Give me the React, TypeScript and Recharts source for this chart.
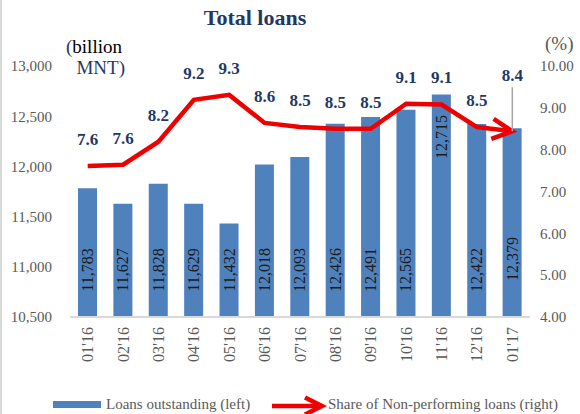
import React from 'react';
import { ComposedChart, Bar, Line, XAxis, YAxis, LabelList } from 'recharts';

const months = ["01'16", "02'16", "03'16", "04'16", "05'16", "06'16", "07'16", "08'16", "09'16", "10'16", "11'16", "12'16", "01'17"];
const loansOutstanding = [11783, 11627, 11828, 11629, 11432, 12018, 12093, 12426, 12491, 12565, 12715, 12422, 12379];
const nplShare = [7.61, 7.64, 8.19, 9.19, 9.31, 8.64, 8.54, 8.5, 8.5, 9.1, 9.08, 8.54, 8.44];
const leftTicks = [10500, 11000, 11500, 12000, 12500, 13000];
const rightTicks = [4, 5, 6, 7, 8, 9, 10];

const FONT = "'Liberation Serif', 'Times New Roman', Times, serif";
const RED = '#ee0000';
const BLUE = '#4F81BD';
const NAVY = '#1F3864';
const GREY = '#595959';
const LAST = months.length - 1;

const data = months.map((m, i) => ({ month: m, loans: loansOutstanding[i], npl: nplShare[i] }));

const XTick = (props: any) => {
  const { x, y, payload } = props;
  return (
    <text
      x={x}
      y={y}
      transform={`rotate(-90, ${x}, ${y})`}
      textAnchor="end"
      dominantBaseline="central"
      fontFamily={FONT}
      fontSize={16}
      fill={GREY}
    >
      {payload.value}
    </text>
  );
};

const BarValueLabel = (props: any) => {
  const { x, y, width, height, value, index } = props;
  const lift = index === 10 ? 180 : index === 12 ? 58 : 47;
  const cx = Number(x) + Number(width) / 2;
  const cy = Number(y) + Number(height) - lift;
  return (
    <text
      x={cx}
      y={cy}
      transform={`rotate(-90, ${cx}, ${cy})`}
      textAnchor="middle"
      dominantBaseline="central"
      fontFamily={FONT}
      fontSize={16}
      fill="#1a1a1a"
    >
      {Number(value).toLocaleString('en-US')}
    </text>
  );
};

const LineValueLabel = (props: any) => {
  const { x, y, value, index } = props;
  const txt = Number(value).toFixed(1);
  if (index === LAST) {
    return (
      <g>
        <line x1={x} x2={x} y1={y - 44} y2={y} stroke="#a6a6a6" strokeWidth={1.5} />
        <text x={x} y={y - 50} textAnchor="middle" fontFamily={FONT} fontWeight="bold" fontSize={17} fill={NAVY}>
          {txt}
        </text>
      </g>
    );
  }
  return (
    <text x={x} y={y - 21} textAnchor="middle" fontFamily={FONT} fontWeight="bold" fontSize={17} fill={NAVY}>
      {txt}
    </text>
  );
};

const ArrowDot = (props: any) => {
  const { cx, cy, index, points } = props;
  if (index !== LAST) return <g key={`dot-${index}`} />;
  let ux = 0.99;
  let uy = 0.11;
  if (points && points[index - 1]) {
    const dx = cx - points[index - 1].x;
    const dy = cy - points[index - 1].y;
    const len = Math.hypot(dx, dy) || 1;
    ux = dx / len;
    uy = dy / len;
  }
  const nx = -uy;
  const ny = ux;
  const back = 20;
  const half = 10;
  const pts = `${cx - back * ux + half * nx},${cy - back * uy + half * ny} ${cx},${cy} ${cx - back * ux - half * nx},${cy - back * uy - half * ny}`;
  return <polyline key={`dot-${index}`} points={pts} fill="none" stroke={RED} strokeWidth={4.5} strokeLinejoin="miter" />;
};

export default function App() {
  return (
    <div style={{ position: 'absolute', left: 0, top: 0, width: 580, height: 414, background: '#fff' }}>
      <ComposedChart
        width={580}
        height={414}
        data={data}
        margin={{ top: 66, right: 10, bottom: 37, left: 20 }}
      >
        <XAxis
          dataKey="month"
          height={60}
          interval={0}
          tickSize={0}
          tickMargin={10}
          tickLine={false}
          axisLine={{ stroke: '#d9d9d9', strokeWidth: 2 }}
          tick={<XTick />}
        />
        <YAxis
          yAxisId="left"
          orientation="left"
          width={50}
          domain={[10500, 13000]}
          ticks={leftTicks}
          allowDataOverflow
          tickSize={0}
          tickMargin={18}
          axisLine={false}
          tickLine={false}
          tickFormatter={(v: number) => v.toLocaleString('en-US')}
          tick={{ fontFamily: FONT, fontSize: 15, fill: GREY }}
        />
        <YAxis
          yAxisId="right"
          orientation="right"
          width={40}
          domain={[4, 10]}
          ticks={rightTicks}
          tickSize={0}
          tickMargin={10}
          axisLine={false}
          tickLine={false}
          tickFormatter={(v: number) => v.toFixed(2)}
          tick={{ fontFamily: FONT, fontSize: 15, fill: GREY, textAnchor: 'start' }}
        />
        <Bar yAxisId="left" dataKey="loans" fill={BLUE} barSize={19} isAnimationActive={false}>
          <LabelList dataKey="loans" content={<BarValueLabel />} />
        </Bar>
        <Line
          yAxisId="right"
          dataKey="npl"
          type="linear"
          stroke={RED}
          strokeWidth={4.5}
          dot={ArrowDot}
          activeDot={false}
          isAnimationActive={false}
        >
          <LabelList dataKey="npl" content={<LineValueLabel />} />
        </Line>
      </ComposedChart>
      <svg
        width={580}
        height={414}
        style={{ position: 'absolute', left: 0, top: 0, pointerEvents: 'none' }}
      >
        <rect x={0} y={0} width={2} height={414} fill="#d9d9d9" />
        <text x={255} y={25} textAnchor="middle" fontFamily={FONT} fontWeight="bold" fontSize={22} fill={NAVY}>
          Total loans
        </text>
        <text x={66} y={53} fontFamily={FONT} fontSize={19} fill="#000">
          <tspan fill={NAVY}>(</tspan>
          <tspan>billion</tspan>
        </text>
        <text x={125} y={74} textAnchor="end" fontFamily={FONT} fontSize={19} fill={NAVY}>
          MNT)
        </text>
        <text x={545} y={50} fontFamily={FONT} fontSize={19} fill={GREY}>
          (%)
        </text>
        <rect x={53} y={401} width={48} height={7} fill={BLUE} />
        <text x={106} y={409} fontFamily={FONT} fontSize={15} fill={GREY}>
          Loans outstanding (left)
        </text>
        <line x1={272} y1={406} x2={320} y2={406} stroke={RED} strokeWidth={4.5} />
        <polyline points="305,397.5 322,406 305,414.5" fill="none" stroke={RED} strokeWidth={4.5} />
        <text x={328} y={409} fontFamily={FONT} fontSize={15} fill={GREY}>
          Share of Non-performing loans (right)
        </text>
      </svg>
    </div>
  );
}
